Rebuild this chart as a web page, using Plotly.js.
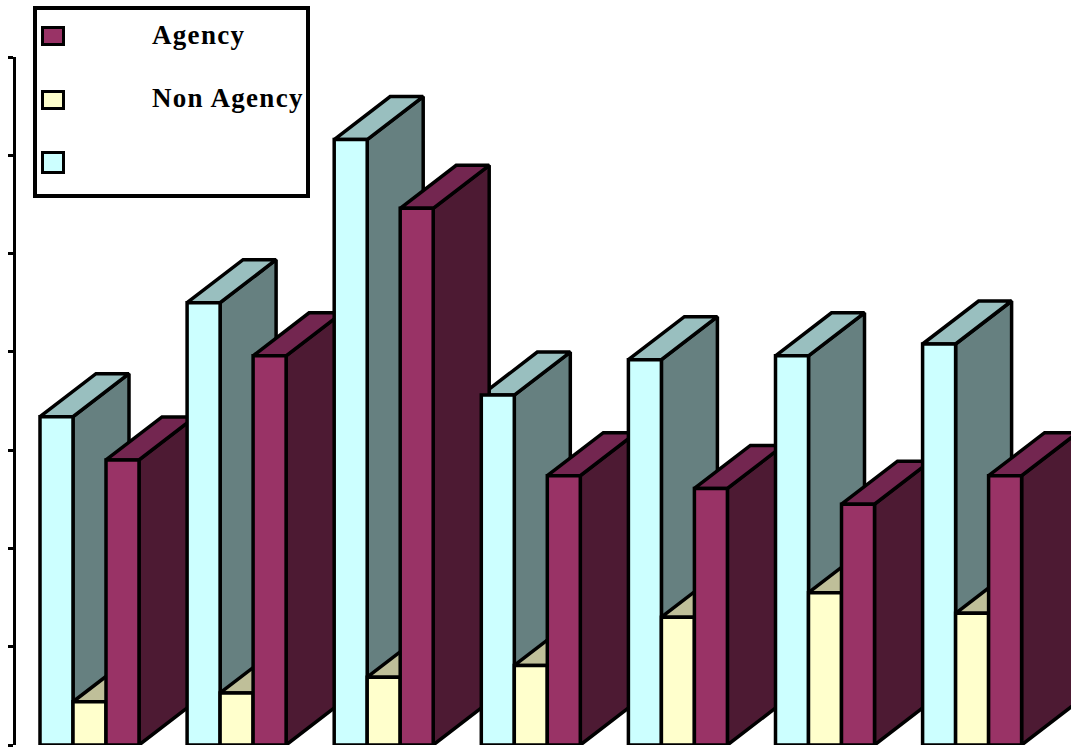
<!DOCTYPE html>
<html>
<head>
<meta charset="utf-8">
<script src="https://cdn.plot.ly/plotly-3.0.1.min.js"></script>
<style>
html,body{margin:0;padding:0;background:#fff;overflow:hidden}
#chart{width:1071px;height:748px}
.annotation-text{letter-spacing:1.3px}
</style>
</head>
<body>
<div id="chart"></div>
<script>
// ---- data (the value axis has no printed labels) ----
const groups = [0, 1, 2, 3, 4, 5, 6];
const totalValues = [16.7, 22.5, 30.8, 17.8, 19.6, 19.8, 20.4];
const nonAgencyValues = [2.2, 2.65, 3.45, 4.05, 6.5, 7.75, 6.7];
const agencyValues = [14.5, 19.8, 27.3, 13.7, 13.05, 12.25, 13.7];
const legendLabels = ["Agency", "Non Agency", ""];

// ---- geometry & style ----
const W = 1071, H = 748;
const M = {l: 16, r: 0, t: 57, b: 3};
const plotW = W - M.l - M.r, plotH = H - M.t - M.b;
const groupPx = 147.1, barPx = 33, firstLeftPx = 40;
const x0Px = firstLeftPx + 1.5 * barPx;
const xRange = [(M.l - x0Px) / groupPx, (W - M.r - x0Px) / groupPx];
const yRange = [0, 35];
const barW = barPx / groupPx;
const depthX = 56 / groupPx;
const depthY = 43 / (plotH / 35);
const LW = 3.5;

const colours = {
  total:  {front: "#CCFFFF", side: "#668080", top: "#99BFBF"},
  non:    {front: "#FFFFCC", side: "#808066", top: "#BFBF99"},
  agency: {front: "#993366", side: "#4D1A33", top: "#732650"}
};

function face(values, slot, kind, key) {
  const xs = [], ys = [];
  groups.forEach((g, i) => {
    const left = g + (slot - 1.5) * barW, right = left + barW, v = values[i];
    if (kind === "side") {
      xs.push(right, right, right + depthX, right + depthX, right, null);
      ys.push(0, v, v + depthY, depthY, 0, null);
    } else {
      xs.push(left, right, right + depthX, left + depthX, left, null);
      ys.push(v, v, v + depthY, v + depthY, v, null);
    }
  });
  return {
    type: "scatter", mode: "lines", x: xs, y: ys, xaxis: "x", yaxis: "y",
    fill: "toself", fillcolor: colours[key][kind],
    line: {color: "#000", width: LW, shape: "linear"},
    connectgaps: false, cliponaxis: false, hoverinfo: "skip", showlegend: false
  };
}
function bar(values, name, key) {
  return {
    type: "bar", name, x: groups, y: values, xaxis: "x2", yaxis: "y2",
    marker: {color: colours[key].front, line: {color: "#000", width: LW}},
    cliponaxis: false, showlegend: false
  };
}

const traces = [
  face(totalValues, 0, "side", "total"),
  face(totalValues, 0, "top", "total"),
  face(nonAgencyValues, 1, "side", "non"),
  face(nonAgencyValues, 1, "top", "non"),
  face(agencyValues, 2, "side", "agency"),
  face(agencyValues, 2, "top", "agency"),
  bar(totalValues, "Total", "total"),
  bar(nonAgencyValues, "Non Agency", "non"),
  bar(agencyValues, "Agency", "agency")
];

// ---- hand-placed legend box, in page pixels mapped to paper coordinates ----
const px = v => (v - M.l) / plotW;
const py = v => (H - M.b - v) / plotH;
function rect(x0, y0, x1, y1, fill, width) {
  return {type: "rect", xref: "paper", yref: "paper", layer: "above",
    x0: px(x0), x1: px(x1), y0: py(y0), y1: py(y1),
    fillcolor: fill, line: {color: "#000", width}};
}
const shapes = [
  rect(35, 8, 308, 196, "#fff", 4),
  rect(42.5, 27.5, 63.5, 44.5, colours.agency.front, 3),
  rect(42.5, 91.5, 63.5, 108.5, colours.non.front, 3),
  rect(42.5, 152.5, 63.5, 172.5, colours.total.front, 3)
];
const labelY = [35, 98, 161];
const annotations = legendLabels.filter(t => t).map((t, i) => ({
  xref: "paper", yref: "paper", x: px(151), y: py(labelY[i]),
  xanchor: "left", yanchor: "middle", showarrow: false, text: t, borderpad: 0,
  font: {family: "Liberation Serif", size: 27, weight: 700, color: "#000"}
}));

const layout = {
  width: W, height: H, margin: {l: M.l, r: M.r, t: M.t, b: M.b, pad: 0},
  paper_bgcolor: "#fff", plot_bgcolor: "#fff", showlegend: false,
  barmode: "group", bargap: 1 - 3 * barW, bargroupgap: 0,
  xaxis: {range: xRange, visible: false, fixedrange: true},
  yaxis: {range: yRange, dtick: 5, tick0: 0, showgrid: false, zeroline: false,
    showticklabels: false, ticks: "outside", ticklen: 5, tickwidth: 3, tickcolor: "#000",
    showline: true, linecolor: "#000", linewidth: 3, fixedrange: true},
  xaxis2: {range: xRange, overlaying: "x", anchor: "y2", visible: false, fixedrange: true},
  yaxis2: {range: yRange, overlaying: "y", anchor: "x2", visible: false, fixedrange: true},
  shapes, annotations
};
Plotly.newPlot("chart", traces, layout, {displayModeBar: false, staticPlot: true});
</script>
</body>
</html>
